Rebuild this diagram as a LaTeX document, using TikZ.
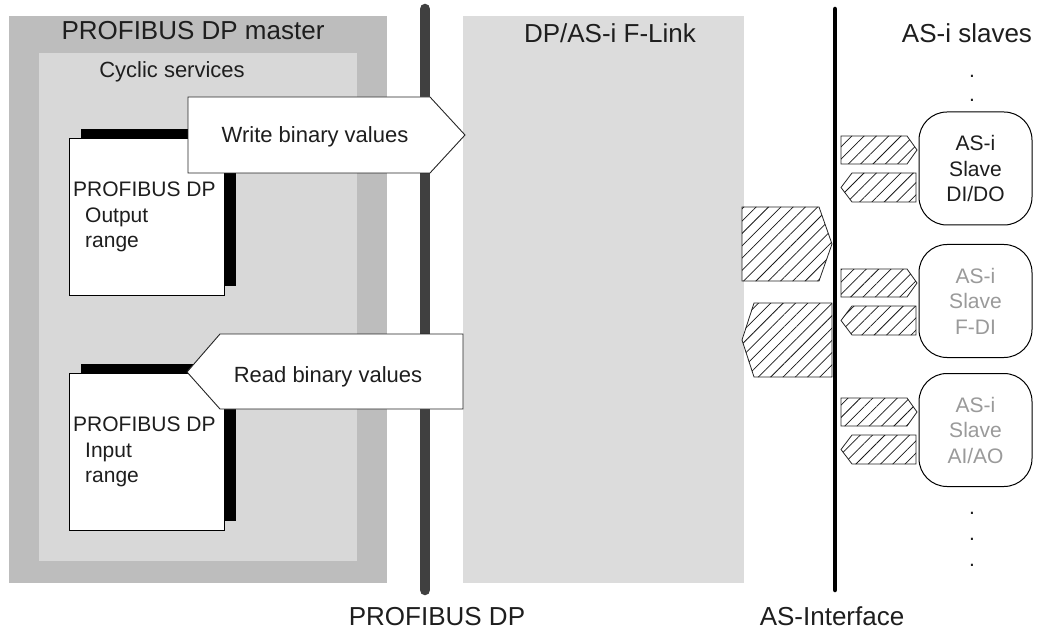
\documentclass[tikz,border=0pt]{standalone}
\usepackage{fontspec}
\setmainfont{Liberation Sans}
\usetikzlibrary{patterns.meta}

\definecolor{masterfill}{HTML}{BDBDBD}
\definecolor{cyclicfill}{HTML}{D8D8D8}
\definecolor{linkfill}{HTML}{DCDCDC}
\definecolor{busgray}{HTML}{404040}
\definecolor{ink}{HTML}{1E1E1E}
\definecolor{dimtext}{HTML}{9A9A9A}

\tikzset{
  biglabel/.style={font=\fontsize{26}{30}\selectfont, text=ink, inner sep=0pt, anchor=base},
  midlabel/.style={font=\fontsize{22}{26}\selectfont, text=ink, inner sep=0pt, anchor=base},
  doctext/.style={font=\fontsize{21}{25.5}\selectfont, text=ink, inner sep=0pt, anchor=north west, align=left},
  docpage/.style={draw=black, line width=0.8pt, fill=white},
  docshadow/.style={fill=black},
  flowarrow/.style={draw=black!85, line width=0.9pt, fill=white},
  hatch/.style={draw=black!85, line width=0.8pt, fill=white,
    postaction={pattern={Lines[angle=45,distance=8.7pt,line width=0.75pt]}, pattern color=black!90}},
  slavebox/.style={draw=black, line width=1pt, rounded corners=28pt, fill=white,
    minimum width=113pt, minimum height=113pt, align=center, inner sep=0pt,
    font=\fontsize{21}{25.5}\selectfont},
  dotmark/.style={font=\fontsize{21}{25}\selectfont, text=ink, inner sep=0pt, anchor=base},
  busline/.style={line cap=round},
}

\begin{document}
\begin{tikzpicture}[x=1pt,y=-1pt]
  % canvas
  \fill[white] (0,0) rectangle (1039,631);
  \useasboundingbox (0,0) rectangle (1039,631);

  % PROFIBUS DP master with its cyclic services area
  \fill[masterfill] (9,16) rectangle (387,583);
  \fill[cyclicfill] (39,53) rectangle (357,561);
  \node[biglabel] (mastertitle) at (193,40) {PROFIBUS DP master};
  \node[midlabel] (cyclictitle) at (172,78) {Cyclic services};

  % DP/AS-i F-Link
  \fill[linkfill] (463,16) rectangle (744,583);
  \node[biglabel] (linktitle) at (610,43) {DP/AS-i F-Link};

  % bus lines
  \draw[busline, busgray, line width=10.5pt] (425,9) -- (425,590);
  \draw[busline, black, line width=4.5pt] (835,9) -- (835,590);
  \node[biglabel] (dplabel) at (437,625) {PROFIBUS DP};
  \node[biglabel] (asilabel) at (832,625) {AS-Interface};

  % output range document
  \fill[docshadow] (81,129) rectangle (236,286);
  \draw[docpage] (69,138) rectangle (224,295);
  \node[doctext] (outtext) at (73,182) {PROFIBUS DP\\\hspace*{12pt}Output\\\hspace*{12pt}range};

  % input range document
  \fill[docshadow] (81,364) rectangle (236,521);
  \draw[docpage] (69,373) rectangle (224,530);
  \node[doctext] (intext) at (73,417) {PROFIBUS DP\\\hspace*{12pt}Input\\\hspace*{12pt}range};

  % write / read arrows
  \draw[flowarrow] (188,97) -- (430,97) -- (465,135) -- (430,173) -- (188,173) -- cycle;
  \node[midlabel] (writetext) at (315,143) {Write binary values};
  \draw[flowarrow] (463,334) -- (220,334) -- (187,372) -- (220,409) -- (463,409) -- cycle;
  \node[midlabel] (readtext) at (328,382) {Read binary values};

  % F-Link data exchange on the AS-Interface side
  \draw[hatch] (742,207) -- (819,207) -- (832,244) -- (819,281) -- (742,281) -- cycle;
  \draw[hatch] (754,303) -- (832,303) -- (832,377) -- (754,377) -- (742,340) -- cycle;

  % AS-i slaves
  \node[biglabel] (slavestitle) at (967,43) {AS-i slaves};
  \node[dotmark] (dota) at (972,77.5) {.};
  \node[dotmark] (dotb) at (972,102) {.};

  \node[slavebox, text=ink] (s1) at (975.5,168.5) {AS-i\\Slave\\DI/DO};
  \node[slavebox, text=dimtext] (s2) at (975.5,301) {AS-i\\Slave\\F-DI};
  \node[slavebox, text=dimtext] (s3) at (975.5,430) {AS-i\\Slave\\AI/AO};

  \foreach \t in {112,245,374}{
    \draw[hatch] (841,\t+24) -- (907,\t+24) -- (917,\t+38) -- (907,\t+52) -- (841,\t+52) -- cycle;
    \draw[hatch] (852,\t+61) -- (916,\t+61) -- (916,\t+90) -- (852,\t+90) -- (841,\t+75.5) -- cycle;
  }

  \node[dotmark] (dotc) at (972,514.5) {.};
  \node[dotmark] (dotd) at (972,540.5) {.};
  \node[dotmark] (dote) at (972,566.5) {.};
\end{tikzpicture}
\end{document}
